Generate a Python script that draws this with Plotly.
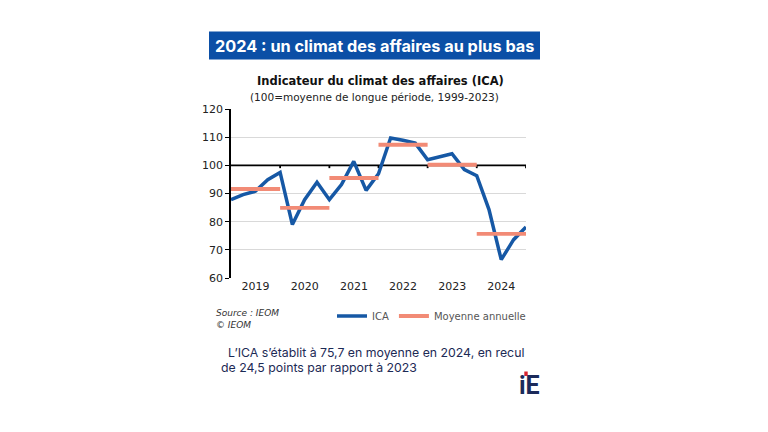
import pandas as pd
import plotly.graph_objects as go

# Quarterly ICA values (one point per quarter boundary, 2019 -> 2025)
quarters = pd.date_range("2019-01-01", periods=25, freq="QS")
ica = [87.8, 89.6, 90.8, 94.9, 97.5, 79.0, 87.8, 94.0, 87.8, 93.2, 101.4, 91.1, 97.0,
       109.7, 108.9, 107.9, 102.0, 103.2, 104.1, 98.5, 96.3, 84.3, 66.5, 73.6, 78.1]

# Annual means
years = [2019, 2020, 2021, 2022, 2023, 2024]
annual_mean = [91.6, 84.9, 95.5, 107.3, 100.2, 75.7]
base_level = 100

BLUE = "#1658a5"
SALMON = "#f28b76"
NAVY = "#1c2a55"
FONT = "DejaVu Sans"

start, end = f"{years[0]}-01-01", f"{years[-1] + 1}-01-01"

mx, my = [], []
for yr, m in zip(years, annual_mean):
    mx += [f"{yr}-01-01", f"{yr + 1}-01-01", None]
    my += [m, m, None]

# 100 line plus small ticks hanging from it at year boundaries
bx, by = [start, end, None], [base_level, base_level, None]
for yr in years:
    bx += [f"{yr + 1}-01-01", f"{yr + 1}-01-01", None]
    by += [base_level, base_level - 1.0, None]

fig = go.Figure()

fig.add_trace(go.Scatter(
    x=bx, y=by, mode="lines", line=dict(color="black", width=1.8),
    showlegend=False, hoverinfo="skip"
))
fig.add_trace(go.Scatter(
    x=quarters, y=ica, mode="lines", name="ICA",
    line=dict(color=BLUE, width=3.5)
))
fig.add_trace(go.Scatter(
    x=mx, y=my, mode="lines", name="Moyenne annuelle",
    line=dict(color=SALMON, width=3.8)
))


def px(x):
    return x / 768


def py(y):
    return 1 - y / 432


def note(text, x, y, size, color, family=FONT, xanchor="center"):
    return dict(text=text, xref="paper", yref="paper", x=px(x), y=py(y),
                xanchor=xanchor, yanchor="middle", align="left", showarrow=False,
                font=dict(family=family, size=size, color=color))


fig.update_layout(
    width=768, height=432,
    margin=dict(l=0, r=0, t=0, b=0, pad=0, autoexpand=False),
    paper_bgcolor="white", plot_bgcolor="white",
    font=dict(family=FONT, size=11, color="#222222"),
    legend=dict(orientation="h", x=px(332), y=py(316), xanchor="left", yanchor="middle",
                font=dict(size=10, color="#555555"), bgcolor="rgba(0,0,0,0)",
                itemwidth=30),
    xaxis=dict(
        domain=[px(231), px(526)], type="date",
        range=[start, end],
        tick0=start, dtick="M12", tickformat="%Y",
        ticklabelmode="period", ticks="", showgrid=False, showline=False,
        tickfont=dict(size=11, color="#222222"), fixedrange=True, automargin=False
    ),
    yaxis=dict(
        domain=[py(278), py(109)], range=[60, 120], dtick=10,
        showline=True, linecolor="black", linewidth=1.5,
        ticks="outside", ticklen=4, tickcolor="black",
        gridcolor="#d9d9d9", gridwidth=1, zeroline=False,
        tickfont=dict(size=11, color="#222222"), fixedrange=True, automargin=False
    ),
    shapes=[
        # title banner
        dict(type="rect", xref="paper", yref="paper",
             x0=px(209), x1=px(540), y0=py(59.5), y1=py(31.5),
             fillcolor="#0b4fa6", line=dict(width=0), layer="below"),
        # red dot of the logo
        dict(type="rect", xref="paper", yref="paper",
             x0=px(524.3), x1=px(527.7), y0=py(376), y1=py(371.5),
             fillcolor="#d9232e", line=dict(width=0)),
    ],
    annotations=[
        note("<b>2024 : un climat des affaires au plus bas</b>", 374.5, 45.5, 16.3, "white", "Inter"),
        note("<b>Indicateur du climat des affaires (ICA)</b>", 380, 81, 11.5, "#111111"),
        note("(100=moyenne de longue période, 1999-2023)", 374, 97, 10.5, "#222222"),
        note("<i>Source : IEOM<br>© IEOM</i>", 214, 319, 9, "#333333", xanchor="left"),
        note("L’ICA s’établit à 75,7 en moyenne en 2024, en recul", 226, 352, 12.3, NAVY, "Inter", "left"),
        note("de 24,5 points par rapport à 2023", 219, 367, 12.3, NAVY, "Inter", "left"),
        note("<b>iE</b>", 529, 385, 25, "#1b2a5a", "Roboto"),
    ],
)

fig.write_html("out.html", config={"displayModeBar": False},
               post_script="document.body.style.margin = '0';")
